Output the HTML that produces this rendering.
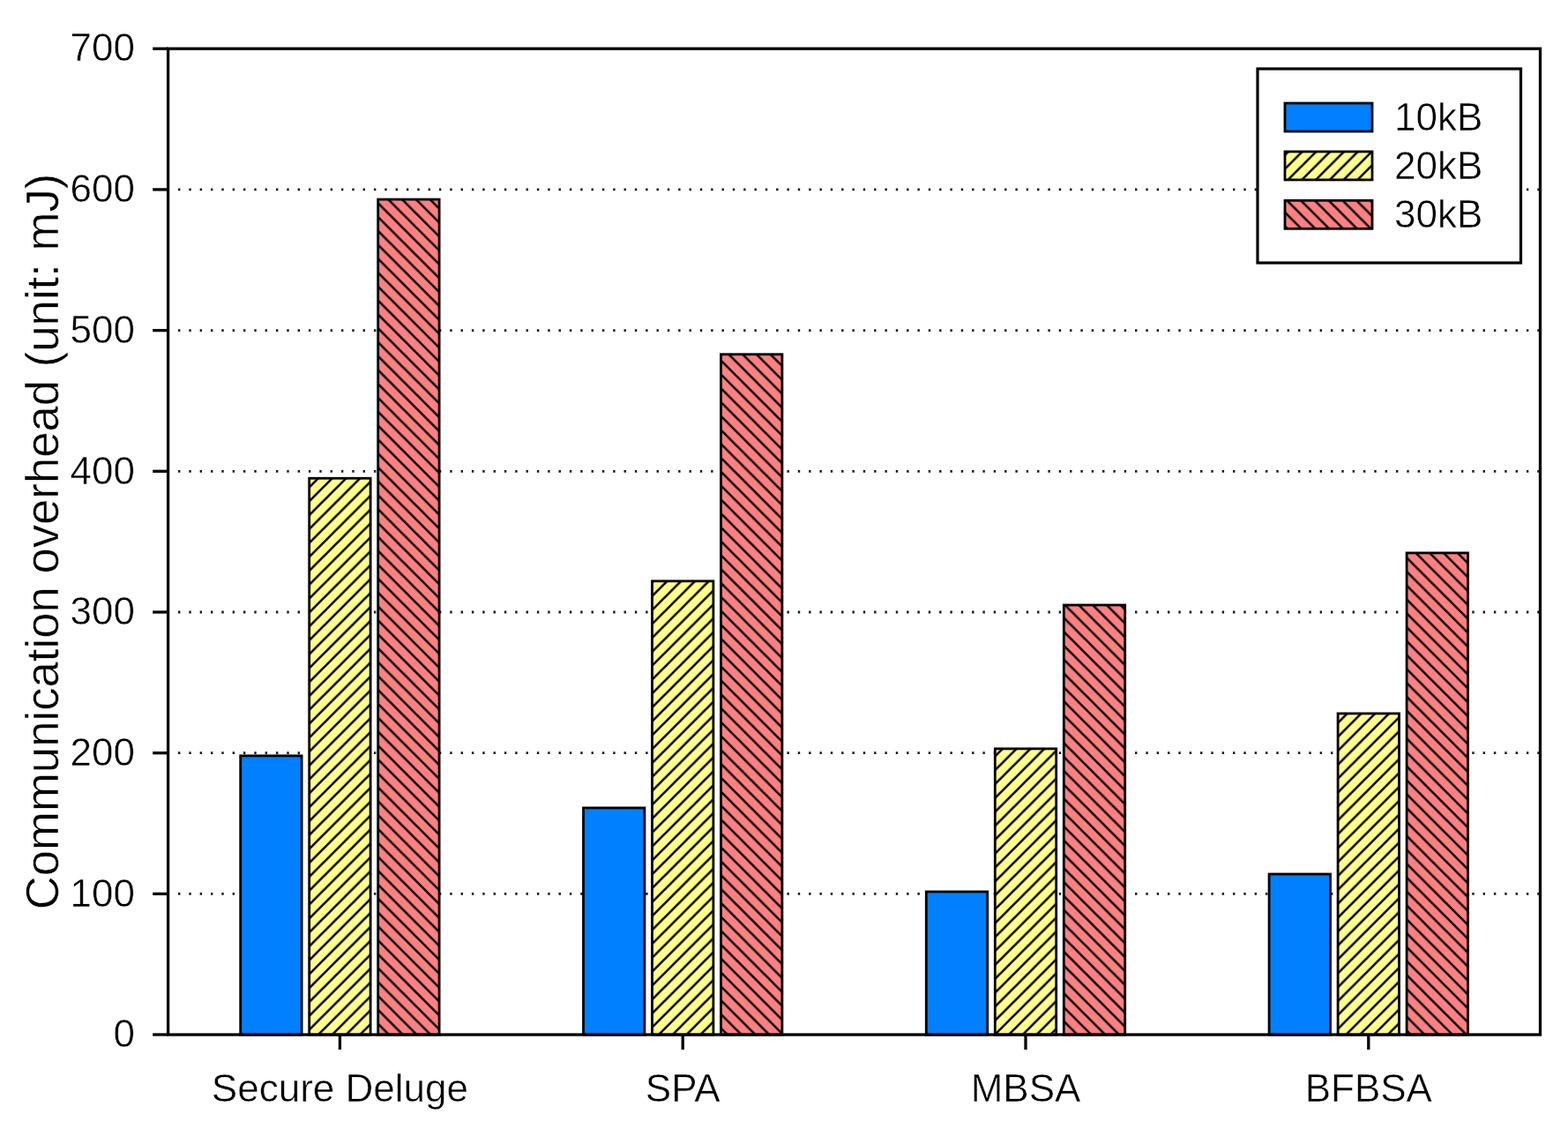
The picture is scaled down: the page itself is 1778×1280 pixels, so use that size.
<!DOCTYPE html><html><head><meta charset="utf-8"><style>
html,body{margin:0;padding:0;background:#fff;}
svg{display:block}
text{font-family:'Liberation Sans',Arial,sans-serif;fill:#000;stroke:#fff;stroke-width:0.5px}
</style></head><body>
<svg width="1778" height="1280" viewBox="0 0 1778 1280">
<defs>
<pattern id="hy0" patternUnits="userSpaceOnUse" width="15.77" height="15.77" patternTransform="translate(4.30,0)"><rect width="15.77" height="15.77" fill="#ffff8c"/><path d="M-4,4 L4,-4 M0,15.77 L15.77,0 M11.77,19.77 L19.77,11.77" stroke="#000" stroke-width="2.6"/></pattern>
<pattern id="hr0" patternUnits="userSpaceOnUse" width="15.77" height="15.77" patternTransform="translate(0,6.61)"><rect width="15.77" height="15.77" fill="#ff8080"/><path d="M-4,11.77 L4,19.77 M0,0 L15.77,15.77 M11.77,-4 L19.77,4" stroke="#000" stroke-width="2.6"/></pattern>
<pattern id="hy1" patternUnits="userSpaceOnUse" width="15.77" height="15.77" patternTransform="translate(11.82,0)"><rect width="15.77" height="15.77" fill="#ffff8c"/><path d="M-4,4 L4,-4 M0,15.77 L15.77,0 M11.77,19.77 L19.77,11.77" stroke="#000" stroke-width="2.6"/></pattern>
<pattern id="hr1" patternUnits="userSpaceOnUse" width="15.77" height="15.77" patternTransform="translate(0,1.18)"><rect width="15.77" height="15.77" fill="#ff8080"/><path d="M-4,11.77 L4,19.77 M0,0 L15.77,15.77 M11.77,-4 L19.77,4" stroke="#000" stroke-width="2.6"/></pattern>
<pattern id="hy2" patternUnits="userSpaceOnUse" width="15.77" height="15.77" patternTransform="translate(14.54,0)"><rect width="15.77" height="15.77" fill="#ffff8c"/><path d="M-4,4 L4,-4 M0,15.77 L15.77,0 M11.77,19.77 L19.77,11.77" stroke="#000" stroke-width="2.6"/></pattern>
<pattern id="hr2" patternUnits="userSpaceOnUse" width="15.77" height="15.77" patternTransform="translate(0,14.50)"><rect width="15.77" height="15.77" fill="#ff8080"/><path d="M-4,11.77 L4,19.77 M0,0 L15.77,15.77 M11.77,-4 L19.77,4" stroke="#000" stroke-width="2.6"/></pattern>
<pattern id="hy3" patternUnits="userSpaceOnUse" width="15.77" height="15.77" patternTransform="translate(2.72,0)"><rect width="15.77" height="15.77" fill="#ffff8c"/><path d="M-4,4 L4,-4 M0,15.77 L15.77,0 M11.77,19.77 L19.77,11.77" stroke="#000" stroke-width="2.6"/></pattern>
<pattern id="hr3" patternUnits="userSpaceOnUse" width="15.77" height="15.77" patternTransform="translate(0,14.95)"><rect width="15.77" height="15.77" fill="#ff8080"/><path d="M-4,11.77 L4,19.77 M0,0 L15.77,15.77 M11.77,-4 L19.77,4" stroke="#000" stroke-width="2.6"/></pattern>
<pattern id="hyL" patternUnits="userSpaceOnUse" width="15.77" height="15.77" patternTransform="translate(8.52,0)"><rect width="15.77" height="15.77" fill="#ffff8c"/><path d="M-4,4 L4,-4 M0,15.77 L15.77,0 M11.77,19.77 L19.77,11.77" stroke="#000" stroke-width="2.6"/></pattern>
<pattern id="hrL" patternUnits="userSpaceOnUse" width="15.77" height="15.77" patternTransform="translate(0,13.76)"><rect width="15.77" height="15.77" fill="#ff8080"/><path d="M-4,11.77 L4,19.77 M0,0 L15.77,15.77 M11.77,-4 L19.77,4" stroke="#000" stroke-width="2.6"/></pattern>
</defs>
<rect width="1778" height="1280" fill="#fff"/>
<line x1="202.0" y1="1013.4" x2="1745.0" y2="1013.4" stroke="#1a1a1a" stroke-width="2.8" stroke-dasharray="2.4 9.93"/>
<line x1="202.0" y1="853.7" x2="1745.0" y2="853.7" stroke="#1a1a1a" stroke-width="2.8" stroke-dasharray="2.4 9.93"/>
<line x1="202.0" y1="694.0" x2="1745.0" y2="694.0" stroke="#1a1a1a" stroke-width="2.8" stroke-dasharray="2.4 9.93"/>
<line x1="202.0" y1="534.3" x2="1745.0" y2="534.3" stroke="#1a1a1a" stroke-width="2.8" stroke-dasharray="2.4 9.93"/>
<line x1="202.0" y1="374.6" x2="1745.0" y2="374.6" stroke="#1a1a1a" stroke-width="2.8" stroke-dasharray="2.4 9.93"/>
<line x1="202.0" y1="214.9" x2="1745.0" y2="214.9" stroke="#1a1a1a" stroke-width="2.8" stroke-dasharray="2.4 9.93"/>
<rect x="272.70" y="856.86" width="69.40" height="316.19" fill="#0080ff" stroke="#000" stroke-width="2.8"/>
<rect x="350.70" y="542.26" width="69.40" height="630.79" fill="url(#hy0)" stroke="#000" stroke-width="2.8"/>
<rect x="428.70" y="226.07" width="69.40" height="946.98" fill="url(#hr0)" stroke="#000" stroke-width="2.8"/>
<rect x="661.50" y="915.94" width="69.40" height="257.11" fill="#0080ff" stroke="#000" stroke-width="2.8"/>
<rect x="739.50" y="658.84" width="69.40" height="514.21" fill="url(#hy1)" stroke="#000" stroke-width="2.8"/>
<rect x="817.50" y="401.73" width="69.40" height="771.32" fill="url(#hr1)" stroke="#000" stroke-width="2.8"/>
<rect x="1050.30" y="1010.96" width="69.40" height="162.09" fill="#0080ff" stroke="#000" stroke-width="2.8"/>
<rect x="1128.30" y="848.87" width="69.40" height="324.18" fill="url(#hy2)" stroke="#000" stroke-width="2.8"/>
<rect x="1206.30" y="685.99" width="69.40" height="487.06" fill="url(#hr2)" stroke="#000" stroke-width="2.8"/>
<rect x="1439.10" y="991.00" width="69.40" height="182.05" fill="#0080ff" stroke="#000" stroke-width="2.8"/>
<rect x="1517.10" y="808.95" width="69.40" height="364.10" fill="url(#hy3)" stroke="#000" stroke-width="2.8"/>
<rect x="1595.10" y="626.90" width="69.40" height="546.15" fill="url(#hr3)" stroke="#000" stroke-width="2.8"/>
<rect x="190.6" y="55.2" width="1555.9" height="1117.85" fill="none" stroke="#000" stroke-width="3.3"/>
<line x1="173.2" y1="1173.0" x2="190.6" y2="1173.0" stroke="#000" stroke-width="3.3"/>
<text x="153" y="1187.2" font-size="44" text-anchor="end">0</text>
<line x1="173.2" y1="1013.4" x2="190.6" y2="1013.4" stroke="#000" stroke-width="3.3"/>
<text x="153" y="1027.6" font-size="44" text-anchor="end">100</text>
<line x1="173.2" y1="853.7" x2="190.6" y2="853.7" stroke="#000" stroke-width="3.3"/>
<text x="153" y="867.9" font-size="44" text-anchor="end">200</text>
<line x1="173.2" y1="694.0" x2="190.6" y2="694.0" stroke="#000" stroke-width="3.3"/>
<text x="153" y="708.2" font-size="44" text-anchor="end">300</text>
<line x1="173.2" y1="534.3" x2="190.6" y2="534.3" stroke="#000" stroke-width="3.3"/>
<text x="153" y="548.5" font-size="44" text-anchor="end">400</text>
<line x1="173.2" y1="374.6" x2="190.6" y2="374.6" stroke="#000" stroke-width="3.3"/>
<text x="153" y="388.8" font-size="44" text-anchor="end">500</text>
<line x1="173.2" y1="214.9" x2="190.6" y2="214.9" stroke="#000" stroke-width="3.3"/>
<text x="153" y="229.1" font-size="44" text-anchor="end">600</text>
<line x1="173.2" y1="55.2" x2="190.6" y2="55.2" stroke="#000" stroke-width="3.3"/>
<text x="153" y="69.4" font-size="44" text-anchor="end">700</text>
<line x1="385.4" y1="1173.05" x2="385.4" y2="1190" stroke="#000" stroke-width="3.3"/>
<text x="385.4" y="1249" font-size="44" text-anchor="middle">Secure Deluge</text>
<line x1="774.2" y1="1173.05" x2="774.2" y2="1190" stroke="#000" stroke-width="3.3"/>
<text x="774.2" y="1249" font-size="44" text-anchor="middle">SPA</text>
<line x1="1163.0" y1="1173.05" x2="1163.0" y2="1190" stroke="#000" stroke-width="3.3"/>
<text x="1163.0" y="1249" font-size="44" text-anchor="middle">MBSA</text>
<line x1="1551.8" y1="1173.05" x2="1551.8" y2="1190" stroke="#000" stroke-width="3.3"/>
<text x="1551.8" y="1249" font-size="44" text-anchor="middle">BFBSA</text>
<text transform="translate(66,614) rotate(-90)" font-size="52.7" text-anchor="middle">Communication overhead (unit: mJ)</text>
<rect x="1426" y="78" width="298.5" height="220" fill="#fff" stroke="#000" stroke-width="3.2"/>
<rect x="1457" y="117" width="99" height="32" fill="#0080ff" stroke="#000" stroke-width="2.8"/>
<text x="1581" y="148.0" font-size="44">10kB</text>
<rect x="1457" y="171.9" width="99" height="32" fill="url(#hyL)" stroke="#000" stroke-width="2.8"/>
<text x="1581" y="202.9" font-size="44">20kB</text>
<rect x="1457" y="227.3" width="99" height="32" fill="url(#hrL)" stroke="#000" stroke-width="2.8"/>
<text x="1581" y="258.3" font-size="44">30kB</text>
</svg></body></html>
